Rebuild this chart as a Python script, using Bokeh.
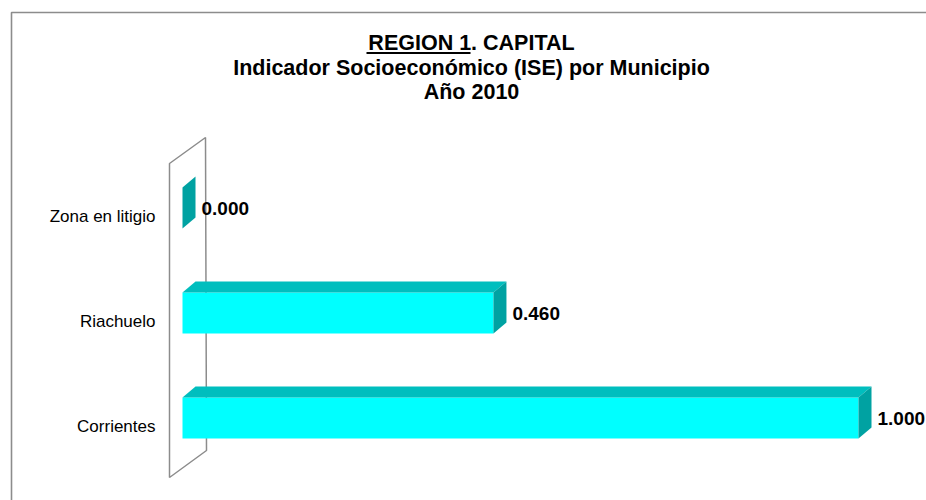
from bokeh.plotting import figure
from bokeh.models import Range1d
from bokeh.embed import file_html
from bokeh.resources import INLINE
from bokeh.core.properties import value

# ---- data ----
municipios = ["Corrientes", "Riachuelo", "Zona en litigio"]
ise = [1.000, 0.460, 0.000]
ise_labels = ["1.000", "0.460", "0.000"]
title_lines = ["REGION 1. CAPITAL",
               "Indicador Socioeconómico (ISE) por Municipio",
               "Año 2010"]

# ---- geometry (page pixel scale) ----
W, H = 926, 500
X0_PAGE = 182.0      # page x of value 0
PX_PER_UNIT = 676.0  # pixels per ISE unit
Y0_PAGE = 417.5      # page y of first category
PX_PER_CAT = 105.0   # pixels between categories

p = figure(width=W, height=H, output_backend="svg", toolbar_location=None,
           x_axis_type=None, y_axis_type=None, min_border=0,
           x_range=Range1d((0 - X0_PAGE) / PX_PER_UNIT, (W - X0_PAGE) / PX_PER_UNIT),
           y_range=Range1d((Y0_PAGE - H) / PX_PER_CAT, (Y0_PAGE - 0) / PX_PER_CAT))
p.extra_x_ranges = {"px": Range1d(0, W)}
p.extra_y_ranges = {"px": Range1d(H, 0)}
p.outline_line_color = None
p.background_fill_color = "white"
p.border_fill_color = "white"
p.grid.visible = False

FONT = value("Liberation Sans")
GRAY = "#8c8c8c"

# chart frame
p.line(x=[11, 11, 926], y=[500, 12, 12], x_range_name="px", y_range_name="px",
       line_color=GRAY, line_width=1.6)

# side wall (3D)
p.patch(x=[169, 205, 206, 169], y=[163, 137, 450, 477], x_range_name="px",
        y_range_name="px", fill_color="white", line_color=GRAY, line_width=1.5)

# 3D bars
h = 20.5 / PX_PER_CAT
ddx = 13.0 / PX_PER_UNIT
ddy = 11.0 / PX_PER_CAT
ys = list(range(len(municipios)))
for yi, v in zip(ys, ise):
    # front face
    if v > 0:
        p.quad(left=0, right=v, bottom=yi - h, top=yi + h,
               fill_color="#00FFFF", line_color=None)
        # top face
        p.patch(x=[0, v, v + ddx, ddx], y=[yi + h, yi + h, yi + h + ddy, yi + h + ddy],
                fill_color="#00BEBE", line_color=None)
    # side face
    p.patch(x=[v, v + ddx, v + ddx, v], y=[yi - h, yi - h + ddy, yi + h + ddy, yi + h],
            fill_color="#00A2A2", line_color=None)

# value labels
p.text(x=[v + ddx for v in ise], y=ys, text=ise_labels, x_offset=6,
       text_font=FONT, text_font_style="bold", text_font_size="19px",
       text_color="black", text_align="left", text_baseline="middle")

# category labels
p.text(x=[(155 - X0_PAGE) / PX_PER_UNIT] * len(municipios),
       y=[yi - 8.5 / PX_PER_CAT for yi in ys], text=municipios,
       text_font=FONT, text_font_size="17px", text_color="black",
       text_align="right", text_baseline="middle")

# title
p.text(x=[471, 471, 471], y=[42.5, 67, 91.5], text=title_lines,
       x_range_name="px", y_range_name="px",
       text_font=FONT, text_font_style="bold", text_font_size="21.5px",
       text_color="black", text_align="center", text_baseline="middle")
# underline of "REGION 1"
p.line(x=[366, 470], y=[52.5, 52.5], x_range_name="px", y_range_name="px",
       line_color="black", line_width=2)

open("out.html", "w").write(file_html(p, INLINE))
